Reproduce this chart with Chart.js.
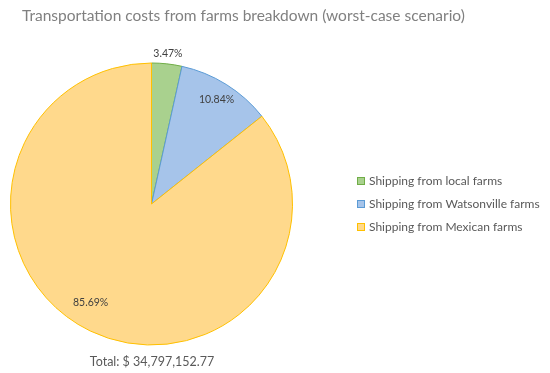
<!DOCTYPE html>
<html>
<head>
<meta charset="utf-8">
<script src="https://cdn.jsdelivr.net/npm/chart.js@4"></script>
<style>
  html, body { margin: 0; padding: 0; background: #fff; }
  #chart { display: block; }
</style>
</head>
<body>
<canvas id="chart" width="550" height="373"></canvas>
<script>
var categories = ['Shipping from local farms', 'Shipping from Watsonville farms', 'Shipping from Mexican farms'];
var shares = [3.47, 10.84, 85.69];
var shareLabels = ['3.47%', '10.84%', '85.69%'];
var titleText = 'Transportation costs from farms breakdown (worst-case scenario)';
var totalText = 'Total: $ 34,797,152.77';

var fillColours = ['#A9D18E', '#A6C4EA', '#FFD98C'];
var lineColours = ['#70AD47', '#5B9BD5', '#FFC000'];
// where each % label sits along the slice bisector (fraction of radius) and a small angle nudge
var labelRadius = [1.07, 0.87, 0.82];
var labelNudge = [0, 0, 6];

var fontFam = 'Lato, "Open Sans", sans-serif';

var textPlugin = {
  id: 'textPlugin',
  afterDraw: function(chart) {
    var ctx = chart.ctx;
    var meta = chart.getDatasetMeta(0);
    ctx.save();

    // title
    ctx.fillStyle = '#808080';
    ctx.font = '15.5px ' + fontFam;
    ctx.textAlign = 'left';
    ctx.textBaseline = 'middle';
    ctx.fillText(titleText, 22, 16);

    // slice labels
    ctx.fillStyle = '#404040';
    ctx.font = '10.5px ' + fontFam;
    ctx.textAlign = 'center';
    $each(meta.data, function(i, arc) {
      var mid = (arc.startAngle + arc.endAngle) / 2 + labelNudge[i] * Math.PI / 180;
      var r = arc.outerRadius * labelRadius[i];
      ctx.fillText(shareLabels[i], arc.x + Math.cos(mid) * r, arc.y + Math.sin(mid) * r);
    });

    // legend
    ctx.font = '12px ' + fontFam;
    ctx.textAlign = 'left';
    $each(categories, function(i, cat) {
      var y = 181 + i * 23;
      ctx.fillStyle = fillColours[i];
      ctx.fillRect(357, y - 4, 8, 8);
      ctx.strokeStyle = lineColours[i];
      ctx.lineWidth = 1;
      ctx.strokeRect(357.5, y - 3.5, 7, 7);
      ctx.fillStyle = '#595959';
      ctx.fillText(cat, 369, y);
    });

    // total under the pie
    ctx.fillStyle = '#595959';
    ctx.font = '12.5px ' + fontFam;
    ctx.textAlign = 'center';
    ctx.fillText(totalText, 152, 362);

    ctx.restore();
  }
};

function $each(arr, fn) {
  for (var i = 0; i < arr.length; i++) fn(i, arr[i]);
}

var ctx = document.getElementById('chart').getContext('2d');
var myChart = new Chart(ctx, {
  type: 'pie',
  data: {
    labels: categories,
    datasets: [{
      data: shares,
      backgroundColor: fillColours,
      borderColor: lineColours,
      borderWidth: 1
    }]
  },
  options: {
    responsive: false,
    animation: false,
    layout: {
      padding: { left: 10, top: 62, right: 257, bottom: 27 }
    },
    plugins: {
      legend: { display: false },
      title: { display: false },
      tooltip: { enabled: false }
    }
  },
  plugins: [textPlugin]
});
</script>
</body>
</html>
